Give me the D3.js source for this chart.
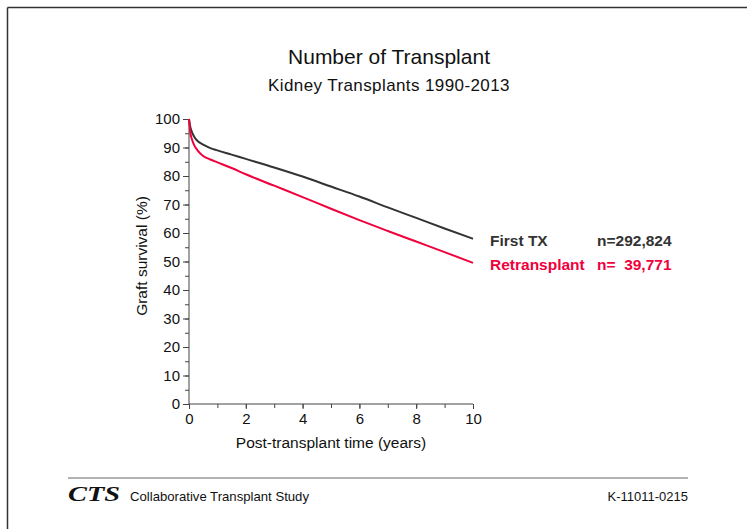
<!DOCTYPE html>
<html>
<head>
<meta charset="utf-8">
<script src="https://cdn.jsdelivr.net/npm/d3@7"></script>
<style>
  html, body { margin: 0; padding: 0; background: #fff; }
  svg { display: block; font-family: "Liberation Sans", Arial, sans-serif; }
</style>
</head>
<body>
<svg id="chart" width="747" height="529"></svg>
<script>
(function () {
  'use strict';

  // ─── Data ────────────────────────────────────────
  const years = [0, 0.05, 0.1, 0.2, 0.3, 0.5, 0.75, 1, 1.5, 2, 3, 4, 5, 6, 7, 8, 9, 10];
  const firstTx = [100, 97, 95.5, 93.5, 92.3, 91, 89.8, 89, 87.5, 86, 83, 79.8, 76.3, 72.8, 69, 65.3, 61.6, 58];
  const retransplant = [100, 95, 93, 90.5, 89, 87, 85.8, 84.8, 82.8, 80.6, 76.6, 72.6, 68.5, 64.5, 60.7, 57, 53.3, 49.5];
  const seriesNames = ['First TX', 'Retransplant'];
  const seriesCounts = ['n=292,824', 'n=  39,771'];
  const xTicks = [0, 2, 4, 6, 8, 10];
  const yTicks = [0, 10, 20, 30, 40, 50, 60, 70, 80, 90, 100];

  const colors = ['#333333', '#f0003c'];
  const svg = d3.select('#chart');

  // frame (only top and left edges visible)
  svg.append('line').attr('x1', 7.5).attr('x2', 747).attr('y1', 7.5).attr('y2', 7.5)
    .attr('stroke', '#333').attr('stroke-width', 1.5);
  svg.append('line').attr('x1', 7.5).attr('x2', 7.5).attr('y1', 7.5).attr('y2', 529)
    .attr('stroke', '#333').attr('stroke-width', 1.5);

  // titles
  svg.append('text').attr('x', 389).attr('y', 64).attr('text-anchor', 'middle')
    .style('font-size', '21px').attr('fill', '#111').text('Number of Transplant');
  svg.append('text').attr('x', 389).attr('y', 91).attr('text-anchor', 'middle')
    .style('font-size', '17px').style('letter-spacing', '0.4px')
    .attr('fill', '#111').text('Kidney Transplants 1990-2013');

  // ─── Scales ──────────────────────────────────────
  const x = d3.scaleLinear().domain([0, 10]).range([189, 473]);
  const y = d3.scaleLinear().domain([0, 100]).range([404, 119]);

  // minor ticks
  const gx = svg.append('g').attr('transform', 'translate(0,404)');
  gx.call(d3.axisBottom(x).tickValues(d3.range(0, 11, 1)).tickSize(4).tickFormat(''));
  const gxMaj = svg.append('g').attr('transform', 'translate(0,404)')
    .call(d3.axisBottom(x).tickValues(xTicks).tickSize(5).tickPadding(4));
  gxMaj.select('.domain').remove();

  const gy = svg.append('g').attr('transform', 'translate(189,0)')
    .call(d3.axisLeft(y).tickValues(d3.range(0, 101, 5)).tickSize(4).tickFormat(''));
  const gyMaj = svg.append('g').attr('transform', 'translate(189,0)')
    .call(d3.axisLeft(y).tickValues(yTicks).tickSize(6).tickPadding(3));
  gyMaj.select('.domain').remove();

  [gx, gxMaj, gy, gyMaj].forEach(function (g) {
    g.select('.domain').attr('stroke', '#444');
    g.selectAll('.tick line').attr('stroke', '#444');
    g.selectAll('.tick text')
      .attr('fill', '#111')
      .style('font-family', '"Liberation Sans", Arial, sans-serif')
      .style('font-size', '15px');
  });
  gx.select('.domain').attr('d', 'M189,0H473');
  gy.select('.domain').attr('d', 'M0,404V119');

  // axis labels
  svg.append('text').attr('x', 331).attr('y', 448).attr('text-anchor', 'middle')
    .style('font-size', '15.5px').attr('fill', '#111').text('Post-transplant time (years)');
  svg.append('text').attr('transform', 'translate(147,256) rotate(-90)')
    .attr('text-anchor', 'middle').style('font-size', '15.5px').attr('fill', '#111')
    .text('Graft survival (%)');

  // ─── Curves ──────────────────────────────────────
  const line = d3.line()
    .x(function (d) { return x(d[0]); })
    .y(function (d) { return y(d[1]); })
    .curve(d3.curveMonotoneX);

  [firstTx, retransplant].forEach(function (vals, i) {
    svg.append('path')
      .datum(years.map(function (t, j) { return [t, vals[j]]; }))
      .attr('d', line)
      .attr('fill', 'none')
      .attr('stroke', colors[i])
      .attr('stroke-width', 2);
  });

  // legend
  seriesNames.forEach(function (name, i) {
    const ly = 246 + i * 24;
    svg.append('text').attr('x', 490).attr('y', ly)
      .style('font-size', '15.5px').style('font-weight', 'bold')
      .attr('fill', colors[i]).text(name);
    svg.append('text').attr('x', 597).attr('y', ly)
      .style('font-size', '15.5px').style('font-weight', 'bold')
      .style('white-space', 'pre')
      .attr('fill', colors[i]).text(seriesCounts[i]);
  });

  // ─── Footer ──────────────────────────────────────
  svg.append('line').attr('x1', 68).attr('x2', 688).attr('y1', 478).attr('y2', 478)
    .attr('stroke', '#666').attr('stroke-width', 1);
  svg.append('text').attr('x', 68).attr('y', 501)
    .style('font-family', '"Liberation Serif", "Times New Roman", serif')
    .style('font-style', 'italic').style('font-weight', 'bold').style('font-size', '22px')
    .attr('textLength', 52).attr('lengthAdjust', 'spacingAndGlyphs')
    .attr('fill', '#111').text('CTS');
  svg.append('text').attr('x', 130).attr('y', 501)
    .style('font-size', '13.5px').attr('fill', '#111')
    .attr('textLength', 179).attr('lengthAdjust', 'spacingAndGlyphs')
    .text('Collaborative Transplant Study');
  svg.append('text').attr('x', 688).attr('y', 501).attr('text-anchor', 'end')
    .style('font-size', '13px').attr('fill', '#111').text('K-11011-0215');
})();
</script>
</body>
</html>
